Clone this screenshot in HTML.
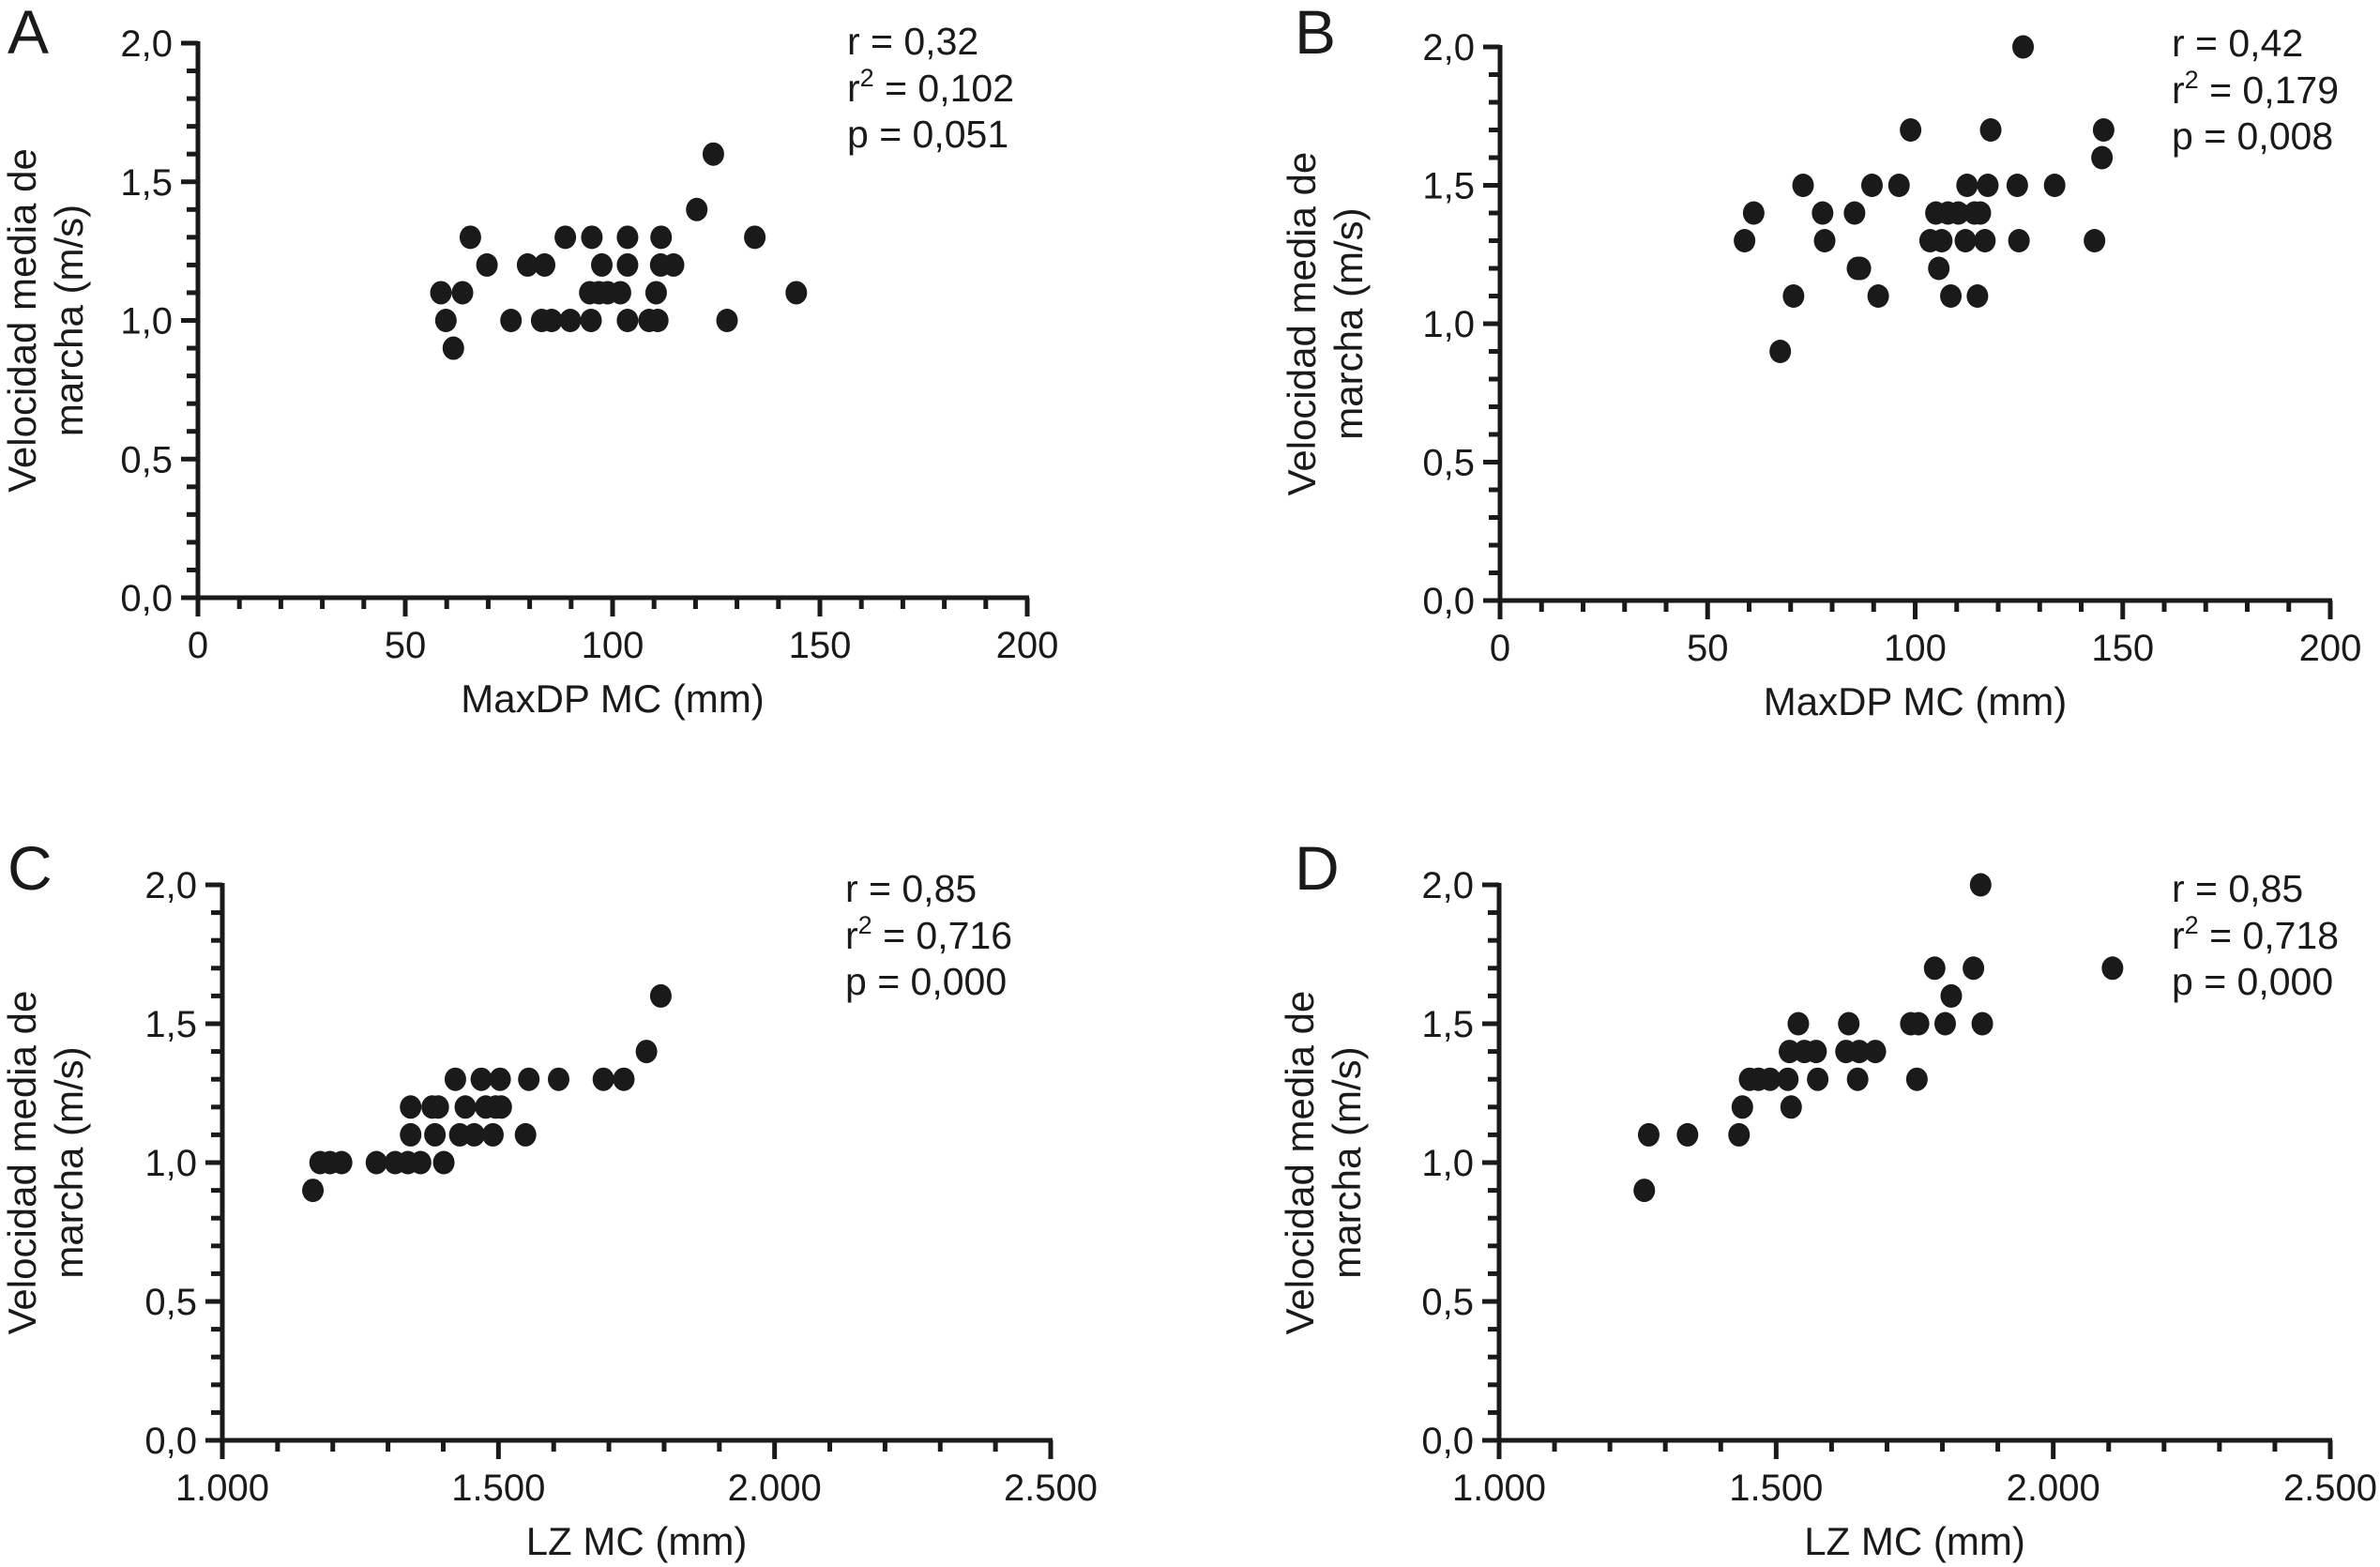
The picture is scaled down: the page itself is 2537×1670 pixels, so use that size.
<!DOCTYPE html>
<html><head><meta charset="utf-8"><style>
html,body{margin:0;padding:0;background:#fff;}
svg{display:block;}
text{font-family:"Liberation Sans",Arial,sans-serif;fill:#1a1a1a;}
</style></head>
<body>
<svg id="fig" width="2537" height="1670" viewBox="0 0 2537 1670" xmlns="http://www.w3.org/2000/svg"></svg>
<script>
// ---- data ----
const aX = [58.6,59.8,61.6,63.8,65.7,69.7,75.5,79.5,83.6,82.9,85.3,89.8,88.6,94.8,95,94.5,97.4,96.7,98.8,101.9,103.6,103.6,103.6,108.8,110.5,110.9,111.6,111.7,114.7,120.3,124.3,127.6,134.3,144.3];
const aY = [1.1,1.0,0.9,1.1,1.3,1.2,1.0,1.2,1.2,1.0,1.0,1.0,1.3,1.0,1.3,1.1,1.2,1.1,1.1,1.1,1.0,1.2,1.3,1.0,1.1,1.0,1.2,1.3,1.2,1.4,1.6,1.0,1.3,1.1];
const bX = [58.9,61.1,70.7,67.5,73,77.7,78.2,85.4,86.1,86.8,89.6,91.1,96.1,98.9,103.6,105,105.7,106.4,107.9,108.6,110.4,112.5,112.1,114.3,115.7,115,116.8,117.5,118.2,124.6,125,126,133.6,143.2,145,145.4];
const bY = [1.3,1.4,1.1,0.9,1.5,1.4,1.3,1.4,1.2,1.2,1.5,1.1,1.5,1.7,1.3,1.4,1.2,1.3,1.4,1.1,1.4,1.5,1.3,1.4,1.4,1.1,1.3,1.5,1.7,1.5,1.3,2.0,1.5,1.3,1.6,1.7];
const cX = [1164,1177,1195,1216,1279,1313,1336,1359,1401,1341,1385,1430,1456,1490,1549,1341,1380,1391,1440,1477,1495,1505,1422,1469,1503,1555,1609,1690,1727,1768,1794];
const cY = [0.9,1.0,1.0,1.0,1.0,1.0,1.0,1.0,1.0,1.1,1.1,1.1,1.1,1.1,1.1,1.2,1.2,1.2,1.2,1.2,1.2,1.2,1.3,1.3,1.3,1.3,1.3,1.3,1.3,1.4,1.6];
const dX = [1262,1270,1340,1433,1439,1452,1468,1489,1521,1575,1647,1754,1527,1524,1551,1572,1540,1631,1626,1650,1679,1743,1757,1805,1872,1786,1816,1856,1869,2107];
const dY = [0.9,1.1,1.1,1.1,1.2,1.3,1.3,1.3,1.3,1.3,1.3,1.3,1.2,1.4,1.4,1.4,1.5,1.5,1.4,1.4,1.4,1.5,1.5,1.5,1.5,1.7,1.6,1.7,2.0,1.7];
const yTickLabels = ["0,0","0,5","1,0","1,5","2,0"];
const mmTickLabels = ["0","50","100","150","200"];
const lzTickLabels = ["1.000","1.500","2.000","2.500"];
const statsA = ["r = 0,32","0,102","p = 0,051"];
const statsB = ["r = 0,42","0,179","p = 0,008"];
const statsC = ["r = 0,85","0,716","p = 0,000"];
const statsD = ["r = 0,85","0,718","p = 0,000"];

const NS = "http://www.w3.org/2000/svg";
const svg = document.getElementById('fig');
function mk(tag, attrs, parent){const e=document.createElementNS(NS,tag);for(const k in attrs)e.setAttribute(k,attrs[k]);(parent||svg).appendChild(e);return e;}

const panels = [
 {id:'a',letter:'A',lx:8,ly:57,ax:211,px1:1095,ay0:637,ay2:46,xmin:0,xmax:200,xmaj:50,xminr:10,xl:mmTickLabels,xs:aX,ys:aY,stats:statsA,sx:903,sy:58,t1:38,t2:88,xt:"MaxDP MC (mm)"},
 {id:'b',letter:'B',lx:1380,ly:57,ax:1599,px1:2484,ay0:640,ay2:50,xmin:0,xmax:200,xmaj:50,xminr:10,xl:mmTickLabels,xs:bX,ys:bY,stats:statsB,sx:2315,sy:60,t1:1402,t2:1452,xt:"MaxDP MC (mm)"},
 {id:'c',letter:'C',lx:8,ly:948,ax:237,px1:1120,ay0:1535,ay2:943,xmin:1000,xmax:2500,xmaj:500,xminr:100,xl:lzTickLabels,xs:cX,ys:cY,stats:statsC,sx:901,sy:961,t1:38,t2:88,xt:"LZ MC (mm)"},
 {id:'d',letter:'D',lx:1380,ly:948,ax:1598,px1:2484,ay0:1535,ay2:943,xmin:1000,xmax:2500,xmaj:500,xminr:100,xl:lzTickLabels,xs:dX,ys:dY,stats:statsD,sx:2315,sy:961,t1:1400,t2:1450,xt:"LZ MC (mm)"}
];

panels.forEach(p=>{
  const g = mk('g',{});
  
  
  const sx = v => p.ax + (v-p.xmin)/(p.xmax-p.xmin)*(p.px1-p.ax);
  const sy = v => p.ay0 + v/2*(p.ay2-p.ay0);

  const L = mk('text',{x:p.lx,y:p.ly,'font-size':66},g); L.textContent=p.letter;
  
  

  const ya = mk('line',{x1:p.ax,y1:p.ay2-2,x2:p.ax,y2:p.ay0+2,stroke:'#1a1a1a','stroke-width':5},g);
  
  
  const xa = mk('line',{x1:p.ax-12,y1:p.ay0,x2:p.px1+2,y2:p.ay0,stroke:'#1a1a1a','stroke-width':5},g);
  
  

  for(let i=0;i<=20;i++){
    const v=i/10, y=sy(v), major=(i%5===0);
    const t = mk('line',{x1:p.ax-(major?18:12),y1:y,x2:p.ax,y2:y,stroke:'#1a1a1a','stroke-width':5},g);
    
    
    if(major){
      const tl = mk('text',{x:p.ax-27,y:y+14,'font-size':40,'text-anchor':'end'},g);
      tl.textContent = yTickLabels[i/5];
      
      
    }
  }
  const nMin = Math.round((p.xmax-p.xmin)/p.xminr);
  const per = p.xmaj/p.xminr;
  for(let i=0;i<=nMin;i++){
    const v=p.xmin+i*p.xminr, x=sx(v), major=(i%per===0);
    const t = mk('line',{x1:x,y1:p.ay0,x2:x,y2:p.ay0+(major?20:12),stroke:'#1a1a1a','stroke-width':5},g);
    
    
    if(major){
      const tl = mk('text',{x:x,y:p.ay0+64,'font-size':40,'text-anchor':'middle'},g);
      tl.textContent = p.xl[i/per];
      
      
    }
  }
  const xt = mk('text',{x:(p.ax+p.px1)/2,y:p.ay0+122,'font-size':42,'text-anchor':'middle'},g);
  xt.textContent = p.xt;
  
  
  const cy=(p.ay0+p.ay2)/2;
  const y1 = mk('text',{x:p.t1,y:cy,'font-size':42,'text-anchor':'middle',transform:`rotate(-90 ${p.t1} ${cy})`},g);
  y1.textContent = "Velocidad media de";
  
  
  const y2 = mk('text',{x:p.t2,y:cy,'font-size':42,'text-anchor':'middle',transform:`rotate(-90 ${p.t2} ${cy})`},g);
  y2.textContent = "marcha (m/s)";
  
  

  const s1 = mk('text',{x:p.sx,y:p.sy,'font-size':41},g); s1.textContent=p.stats[0];
  
  
  const s2 = mk('text',{x:p.sx,y:p.sy+50,'font-size':41},g);
  
  
  const r = mk('tspan',{},s2); r.textContent='r';
  const sup = mk('tspan',{dy:-16,'font-size':27},s2); sup.textContent='2';
  const rest = mk('tspan',{dy:16},s2); rest.textContent=' = '+p.stats[1];
  const s3 = mk('text',{x:p.sx,y:p.sy+99,'font-size':41},g); s3.textContent=p.stats[2];
  
  

  p.xs.forEach((xv,i)=>{
    const c = mk('ellipse',{cx:sx(xv),cy:sy(p.ys[i]),rx:11.5,ry:12.5,fill:'#1a1a1a'},g);
    
    
  });
});
</script>
</body></html>
